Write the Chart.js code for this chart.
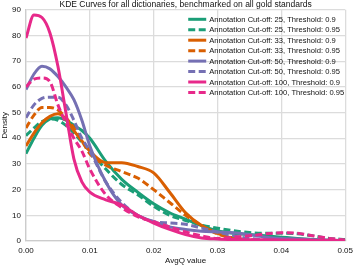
<!DOCTYPE html>
<html>
<head>
<meta charset="utf-8">
<script src="https://cdn.jsdelivr.net/npm/chart.js@4.4.1/dist/chart.umd.min.js"></script>
<style>
  html, body { margin: 0; padding: 0; background: #fff; }
  #wrap { width: 358px; height: 266px; position: relative; }
</style>
</head>
<body>
<div id="wrap"><canvas id="kde"></canvas></div>
<script>
  // AvgQ sample positions (shared by every curve)
  const avgQ = [0, 0.00125, 0.0025, 0.00375, 0.005, 0.00625, 0.0075, 0.00875, 0.01,
    0.0125, 0.015, 0.0175, 0.02, 0.0225, 0.025, 0.0275, 0.03, 0.0325, 0.035,
    0.0375, 0.04, 0.0425, 0.045, 0.0475, 0.05];

  // density values
  const cut25_t90  = [34, 40, 45, 47.5, 48, 47, 45, 43, 40, 31, 24, 19, 14.5, 11, 8.5, 6, 4, 3, 2.5, 2, 1.5, 1, 0.6, 0.3, 0.1];
  const cut25_t95  = [41, 44, 46.5, 47.5, 47, 45, 42, 38.5, 35, 28, 22, 18, 13.5, 10, 8, 6.2, 5, 4, 3.3, 3, 3, 2.8, 2, 1, 0.6];
  const cut33_t90  = [37, 42, 46, 48.5, 49.5, 47.5, 43, 39, 35, 30.5, 30.5, 29, 26.5, 19, 11, 6, 3, 1, 0.3, 0.1, 0, 0, 0, 0, 0];
  const cut33_t95  = [44, 49, 52, 52, 51, 48, 44, 39, 34, 29.5, 27, 24.5, 20, 15, 10, 6, 2.8, 1.2, 0.5, 0.2, 0.1, 0, 0, 0, 0];
  const cut50_t90  = [59, 65, 68, 67, 64, 60, 55, 47, 37, 23, 14, 10, 7.5, 5.5, 4.5, 3.8, 3.5, 3.2, 2.5, 1.5, 1, 0.8, 0.5, 0.2, 0.1];
  const cut50_t95  = [48, 53, 55.5, 56, 56, 53, 47, 40, 35, 23, 15, 10, 7.5, 7, 6.5, 5, 3.5, 2, 1, 0.5, 0.2, 0.1, 0, 0, 0];
  const cut100_t90 = [79, 88, 87, 81, 68, 50, 32, 23, 19, 16, 14, 10, 7, 4.5, 2.5, 1.2, 0.8, 0.6, 0.5, 0.5, 0.4, 0.4, 0.3, 0.3, 0.2];
  const cut100_t95 = [60, 63, 63.5, 62, 53, 46, 40, 35, 28, 18, 13, 9.5, 7.5, 5.5, 3.5, 2, 1, 1.5, 2, 2.8, 3.2, 3, 2, 1, 0.4];

  const seriesLabels = [
    "Annotation Cut-off: 25, Threshold: 0.9",
    "Annotation Cut-off: 25, Threshold: 0.95",
    "Annotation Cut-off: 33, Threshold: 0.9",
    "Annotation Cut-off: 33, Threshold: 0.95",
    "Annotation Cut-off: 50, Threshold: 0.9",
    "Annotation Cut-off: 50, Threshold: 0.95",
    "Annotation Cut-off: 100, Threshold: 0.9",
    "Annotation Cut-off: 100, Threshold: 0.95"
  ];
  const seriesValues = [cut25_t90, cut25_t95, cut33_t90, cut33_t95, cut50_t90, cut50_t95, cut100_t90, cut100_t95];
  const seriesColors = ["#1b9e77", "#1b9e77", "#d95f02", "#d95f02", "#7570b3", "#7570b3", "#e7298a", "#e7298a"];
  const seriesDashed = [false, true, false, true, false, true, false, true];

  const yTicks = [0, 10, 20, 30, 40, 50, 60, 70, 80, 90];
  const xTicks = [0, 0.01, 0.02, 0.03, 0.04, 0.05];

  const FONT = "'Liberation Sans', Arial, sans-serif";
  const DASH = [7, 3.5];

  // legend drawn inside the plot, top right, without a background
  const insideLegend = {
    id: "insideLegend",
    afterDatasetsDraw(chart) {
      const ctx = chart.ctx;
      const area = chart.chartArea;
      const x0 = area.right - 157;
      const y0 = area.top + 9.5;
      const rowH = 10.45;
      ctx.save();
      ctx.font = "7.6px " + FONT;
      ctx.textBaseline = "middle";
      ctx.fillStyle = "#111";
      chart.data.datasets.forEach((ds, i) => {
        const y = y0 + i * rowH;
        ctx.beginPath();
        ctx.strokeStyle = ds.borderColor;
        ctx.lineWidth = 3;
        ctx.setLineDash(ds.borderDash || []);
        ctx.moveTo(x0, y);
        ctx.lineTo(x0 + 18, y);
        ctx.stroke();
        ctx.setLineDash([]);
        ctx.fillText(ds.label, x0 + 21, y + 0.5);
      });
      ctx.restore();
    }
  };

  const datasets = seriesLabels.map((label, i) => ({
    label: label,
    data: avgQ.map((x, j) => ({ x: x, y: seriesValues[i][j] })),
    borderColor: seriesColors[i],
    borderWidth: 3,
    borderDash: seriesDashed[i] ? DASH : [],
    pointRadius: 0,
    fill: false,
    cubicInterpolationMode: "monotone",
    order: seriesLabels.length - i
  }));

  new Chart(document.getElementById("kde"), {
    type: "line",
    data: { datasets: datasets },
    options: {
      responsive: true,
      maintainAspectRatio: false,
      animation: false,
      layout: { padding: { left: 0, right: 8, top: 0, bottom: 0 } },
      scales: {
        x: {
          type: "linear",
          min: 0,
          max: 0.05,
          afterBuildTicks: s => { s.ticks = xTicks.map(v => ({ value: v })); },
          afterFit: s => { s.height = 25; },
          ticks: {
            padding: 5,
            color: "#111",
            font: { family: FONT, size: 8 },
            callback: v => v.toFixed(2),
            maxRotation: 0
          },
          grid: { color: "#dcdcdc", lineWidth: 1.3, drawTicks: false },
          border: { color: "#cccccc", width: 1.3 },
          title: {
            display: true,
            text: "AvgQ value",
            color: "#111",
            font: { family: FONT, size: 8 },
            padding: { top: 0, bottom: 0 }
          }
        },
        y: {
          min: 0,
          max: 90,
          afterBuildTicks: s => { s.ticks = yTicks.map(v => ({ value: v })); },
          afterFit: s => { s.width = 26; },
          ticks: {
            padding: 5,
            color: "#111",
            font: { family: FONT, size: 8 }
          },
          grid: { color: "#dcdcdc", lineWidth: 1.3, drawTicks: false },
          border: { color: "#cccccc", width: 1.3 },
          title: {
            display: true,
            text: "Density",
            color: "#111",
            font: { family: FONT, size: 8 },
            padding: { top: 0, bottom: 0 }
          }
        }
      },
      plugins: {
        legend: { display: false },
        tooltip: { enabled: false },
        title: {
          display: true,
          fullSize: false,
          text: "KDE Curves for all dictionaries, benchmarked on all gold standards",
          color: "#111",
          font: { family: FONT, size: 8.5, weight: "normal", lineHeight: 1.15 },
          padding: { top: 0, bottom: 0 }
        }
      }
    },
    plugins: [insideLegend]
  });
</script>
</body>
</html>
